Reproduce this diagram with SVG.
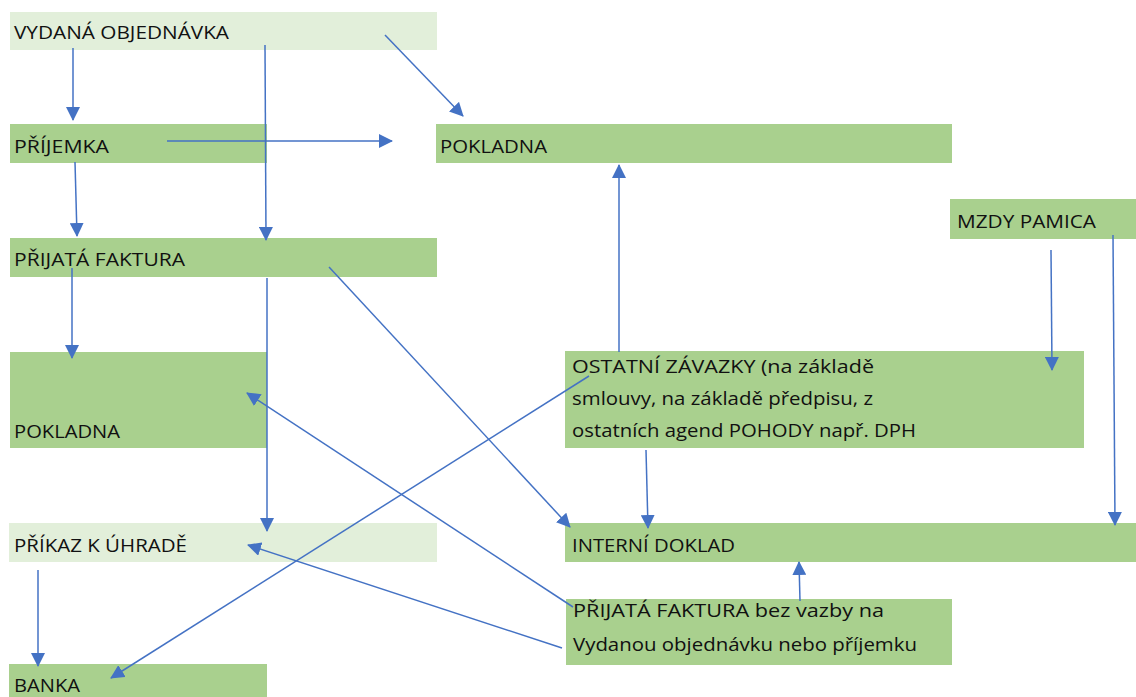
<svg xmlns="http://www.w3.org/2000/svg" width="1136" height="697" viewBox="0 0 1136 697">
  <style>
    .box { fill: #a9d08e; }
    .box.light { fill: #e2efda; }
    .lbl { font-family: "Open Sans", "Noto Sans", sans-serif; font-size: 18px; fill: #111; }
    .conn line { stroke: #4472c4; stroke-width: 1.5; fill: none; marker-end: url(#arrow); }
  </style>
  <defs>
    <marker id="arrow" markerUnits="userSpaceOnUse" markerWidth="14" markerHeight="14" refX="13" refY="7" orient="auto">
      <path d="M0,0 L14,7 L0,14 Z" fill="#4472c4"/>
    </marker>
  </defs>

  <rect width="1136" height="697" fill="#ffffff"/>

  <g id="vydana-objednavka">
    <rect class="box light" x="10" y="12" width="427" height="38"/>
    <text class="lbl" x="14" y="39" textLength="215" lengthAdjust="spacingAndGlyphs">VYDANÁ OBJEDNÁVKA</text>
  </g>
  <g id="prijemka">
    <rect class="box" x="10" y="124" width="257" height="39"/>
    <text class="lbl" x="14" y="153" textLength="95" lengthAdjust="spacingAndGlyphs">PŘÍJEMKA</text>
  </g>
  <g id="pokladna-top">
    <rect class="box" x="436" y="124" width="516" height="39"/>
    <text class="lbl" x="440" y="153" textLength="107" lengthAdjust="spacingAndGlyphs">POKLADNA</text>
  </g>
  <g id="mzdy-pamica">
    <rect class="box" x="950" y="199" width="186" height="40"/>
    <text class="lbl" x="957" y="228" textLength="139" lengthAdjust="spacingAndGlyphs">MZDY PAMICA</text>
  </g>
  <g id="prijata-faktura">
    <rect class="box" x="10" y="238" width="427" height="39"/>
    <text class="lbl" x="14" y="266" textLength="171" lengthAdjust="spacingAndGlyphs">PŘIJATÁ FAKTURA</text>
  </g>
  <g id="pokladna-left">
    <rect class="box" x="10" y="352" width="257" height="96"/>
    <text class="lbl" x="14" y="438" textLength="106" lengthAdjust="spacingAndGlyphs">POKLADNA</text>
  </g>
  <g id="ostatni-zavazky">
    <rect class="box" x="565" y="351" width="519" height="97"/>
    <text class="lbl" x="572" y="373" textLength="302" lengthAdjust="spacingAndGlyphs">OSTATNÍ ZÁVAZKY (na základě</text>
    <text class="lbl" x="572" y="405" textLength="301" lengthAdjust="spacingAndGlyphs">smlouvy, na základě předpisu, z</text>
    <text class="lbl" x="572" y="437" textLength="344" lengthAdjust="spacingAndGlyphs">ostatních agend POHODY např. DPH</text>
  </g>
  <g id="prikaz-k-uhrade">
    <rect class="box light" x="9" y="523" width="428" height="39"/>
    <text class="lbl" x="14" y="552" textLength="173" lengthAdjust="spacingAndGlyphs">PŘÍKAZ K ÚHRADĚ</text>
  </g>
  <g id="interni-doklad">
    <rect class="box" x="565" y="523" width="571" height="39"/>
    <text class="lbl" x="572" y="552" textLength="163" lengthAdjust="spacingAndGlyphs">INTERNÍ DOKLAD</text>
  </g>
  <g id="prijata-faktura-bez-vazby">
    <rect class="box" x="566" y="599" width="386" height="66"/>
    <text class="lbl" x="573" y="617" textLength="311" lengthAdjust="spacingAndGlyphs">PŘIJATÁ FAKTURA bez vazby na</text>
    <text class="lbl" x="573" y="651" textLength="344" lengthAdjust="spacingAndGlyphs">Vydanou objednávku nebo příjemku</text>
  </g>
  <g id="banka">
    <rect class="box" x="9" y="664" width="258" height="33"/>
    <text class="lbl" x="14" y="692" textLength="66" lengthAdjust="spacingAndGlyphs">BANKA</text>
  </g>

  <g id="connectors" class="conn">
    <line x1="73" y1="48" x2="73" y2="120"/>
    <line x1="265" y1="45" x2="266" y2="240"/>
    <line x1="385" y1="35" x2="463" y2="116"/>
    <line x1="167" y1="141" x2="392" y2="141"/>
    <line x1="75" y1="162" x2="77" y2="236"/>
    <line x1="72" y1="268" x2="72" y2="358"/>
    <line x1="267" y1="278" x2="267" y2="531"/>
    <line x1="329" y1="267" x2="570" y2="527"/>
    <line x1="619" y1="352" x2="619" y2="165"/>
    <line x1="589" y1="376" x2="111" y2="678"/>
    <line x1="573" y1="607" x2="247" y2="393"/>
    <line x1="562" y1="648" x2="248" y2="545"/>
    <line x1="646" y1="450" x2="648" y2="528"/>
    <line x1="1051" y1="250" x2="1052" y2="370"/>
    <line x1="1113" y1="235" x2="1115" y2="525"/>
    <line x1="800" y1="601" x2="799" y2="562"/>
    <line x1="38" y1="570" x2="38" y2="666"/>
  </g>
</svg>
